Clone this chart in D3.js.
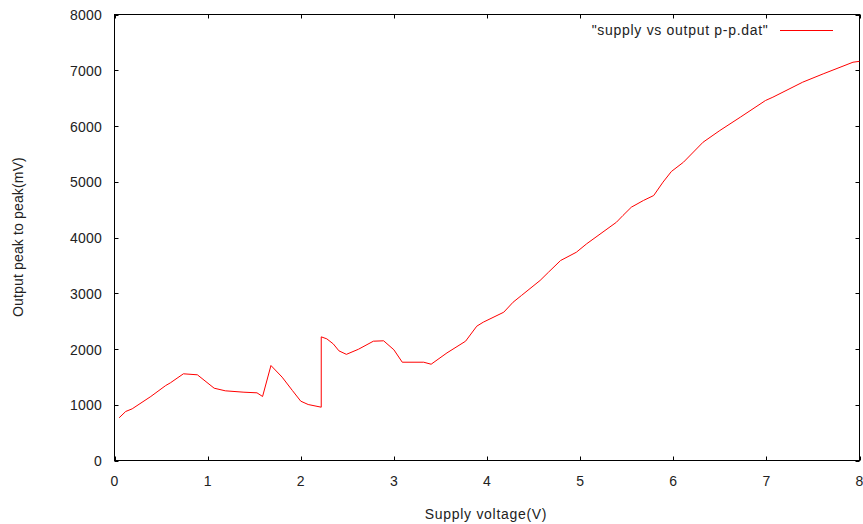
<!DOCTYPE html>
<html><head><meta charset="utf-8">
<script src="https://cdn.jsdelivr.net/npm/d3@7"></script>
<style>
body{margin:0;background:#fff;}
text{font-family:"Liberation Sans",Arial,sans-serif;font-size:14px;fill:#222;}
</style></head>
<body><svg id="c" width="863" height="524"></svg>
<script>
const voltage = [0.05,0.12,0.19,0.39,0.55,0.6,0.74,0.89,1.07,1.19,1.39,1.53,1.59,1.68,1.8,1.91,2.0,2.08,2.22,2.22,2.28,2.35,2.41,2.49,2.62,2.78,2.89,3.0,3.09,3.32,3.4,3.57,3.77,3.89,3.96,4.18,4.28,4.37,4.57,4.66,4.79,4.96,5.07,5.39,5.46,5.55,5.68,5.79,5.89,5.98,6.11,6.32,6.5,6.72,6.99,7.07,7.39,7.61,7.93,8.0];
const outputPP = [766,879,927,1148,1345,1393,1555,1537,1297,1250,1225,1214,1148,1704,1495,1256,1064,1004,956,2218,2182,2090,1967,1904,1996,2140,2147,1986,1763,1763,1727,1930,2140,2409,2481,2660,2839,2960,3229,3377,3587,3736,3887,4274,4395,4544,4664,4753,4993,5184,5351,5709,5919,6158,6457,6517,6786,6935,7144,7160];
const xTicks = [0,1,2,3,4,5,6,7,8];
const yTicks = [0,1000,2000,3000,4000,5000,6000,7000,8000];
const seriesName = '"supply vs output p-p.dat"';

const svg = d3.select("#c");
const L=114.5, R=859.5, T=14.5, B=460.5;
const x = d3.scaleLinear().domain([0,8]).range([L,R]);
const y = d3.scaleLinear().domain([0,8000]).range([B,T]);

// ticks (inward, mirrored)
const g = svg.append("g").attr("stroke","#000").attr("stroke-width",1);
xTicks.forEach(t=>{
  const px = Math.round(x(t))+0.5;
  g.append("line").attr("x1",px).attr("x2",px).attr("y1",B).attr("y2",B-4);
  g.append("line").attr("x1",px).attr("x2",px).attr("y1",T).attr("y2",T+4);
});
yTicks.forEach(t=>{
  const py = Math.round(y(t))+0.5;
  g.append("line").attr("x1",L).attr("x2",L+4).attr("y1",py).attr("y2",py);
  g.append("line").attr("x1",R).attr("x2",R-4).attr("y1",py).attr("y2",py);
});
svg.append("rect").attr("x",L).attr("y",T).attr("width",R-L).attr("height",B-T)
  .attr("fill","none").attr("stroke","#000");

// tick labels
svg.selectAll(".xl").data(xTicks).enter().append("text")
  .attr("x",d=>x(d)).attr("y",486).attr("text-anchor","middle").style("letter-spacing","0.2px").text(d=>d);
svg.selectAll(".yl").data(yTicks).enter().append("text")
  .attr("x",102).attr("y",d=>y(d)+5.5).attr("text-anchor","end").style("letter-spacing","0.2px").text(d=>d);

// axis titles
svg.append("text").attr("x",486).attr("y",519).attr("text-anchor","middle").style("letter-spacing","0.7px").text("Supply voltage(V)");
svg.append("text").attr("transform","translate(23,237) rotate(-90)").attr("text-anchor","middle").style("letter-spacing","0.15px").text("Output peak to peak(mV)");

// line
const data = voltage.map((v,i)=>[v,outputPP[i]]);
svg.append("path").datum(data).attr("fill","none").attr("stroke","#ff0000").attr("stroke-width",1)
  .attr("d",d3.line().x(d=>x(d[0])).y(d=>y(d[1])));

// legend
svg.append("text").attr("x",768.5).attr("y",35).attr("text-anchor","end").style("letter-spacing","0.7px").text(seriesName);
svg.append("line").attr("x1",780).attr("x2",833).attr("y1",30.5).attr("y2",30.5).attr("stroke","#ff0000");
</script></body></html>
